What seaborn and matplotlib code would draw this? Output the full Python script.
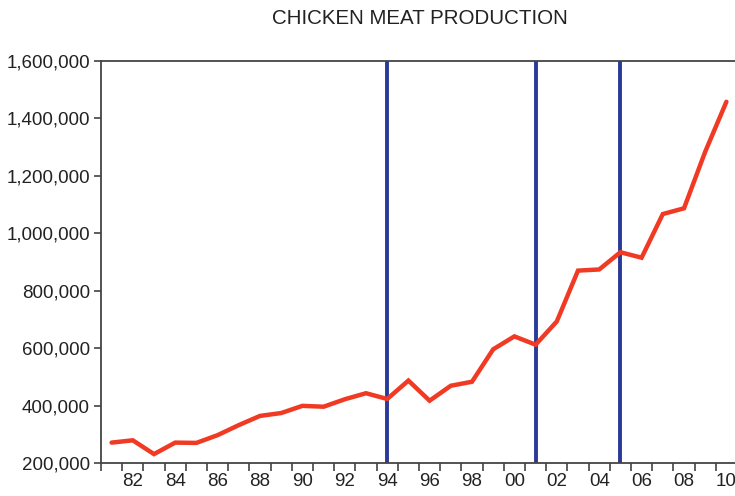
import numpy as np
import pandas as pd
import matplotlib
matplotlib.use("Agg")
import matplotlib.pyplot as plt
from matplotlib.ticker import FixedLocator, FuncFormatter
import seaborn as sns

# Annual chicken meat production, 1981-2010
years = list(range(1981, 2011))
production = [
    271000, 279000, 231000, 271000, 270000, 297000, 332000, 364000, 374000, 399000,
    396000, 422000, 443000, 423000, 487000, 417000, 469000, 483000, 596000, 641000,
    612000, 693000, 870000, 874000, 934000, 915000, 1067000, 1087000, 1284000, 1458000,
]
break_years = [1994, 2001, 2005]
title = "CHICKEN MEAT PRODUCTION"

df = pd.DataFrame({"year": years, "production": production})

sns.set_style("ticks")
plt.rcParams["font.family"] = ["Liberation Sans", "DejaVu Sans"]

fig = plt.figure(figsize=(7.35, 4.96), dpi=100)
ax = fig.add_axes([101 / 735, 33 / 496, 636 / 735, 402 / 496])

for yr in break_years:
    ax.axvline(yr, color="#2B3A98", lw=2.8, zorder=2)

sns.lineplot(data=df, x="year", y="production", ax=ax, color="#F03A24",
             lw=3.2, zorder=3, solid_joinstyle="miter")

ax.set_xlim(years[0] - 0.5, years[-1] + 0.5)
ax.set_ylim(200000, 1600000)

# year boundaries get tick marks, every other year gets a centered label
ax.xaxis.set_major_locator(FixedLocator([y - 0.5 for y in years]))
ax.xaxis.set_major_formatter(FuncFormatter(lambda v, p: ""))
label_years = [y for y in years if y % 2 == 0]
ax.xaxis.set_minor_locator(FixedLocator(label_years))
ax.xaxis.set_minor_formatter(FuncFormatter(lambda v, p: f"{int(round(v)) % 100:02d}"))
ax.tick_params(axis="x", which="major", length=6, width=1.1, color="#333333", direction="out")
ax.tick_params(axis="x", which="minor", length=0, pad=7, labelsize=13.5, labelcolor="#222222")

ax.yaxis.set_major_locator(FixedLocator(np.arange(200000, 1600001, 200000)))
ax.yaxis.set_major_formatter(FuncFormatter(lambda v, p: f"{int(v):,}"))
ax.tick_params(axis="y", length=5, width=1.1, color="#333333", direction="out",
               pad=3, labelsize=13.5, labelcolor="#222222")

for side in ["left", "bottom", "top", "right"]:
    ax.spines[side].set_color("#444444")
    ax.spines[side].set_linewidth(1.3)

ax.set_xlabel("")
ax.set_ylabel("")
fig.text(420 / 735, 1 - 18 / 496, title, ha="center", va="center",
         fontsize=14.8, color="#222222")

fig.savefig("out.png", dpi=100)
